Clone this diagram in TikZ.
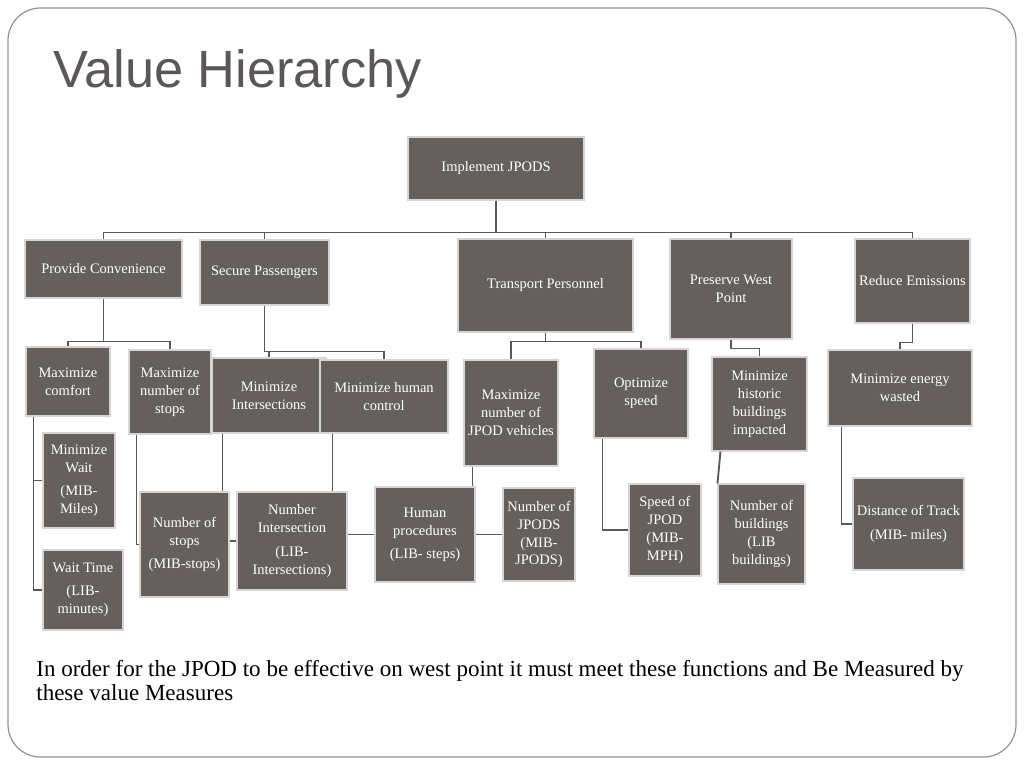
\documentclass[tikz,border=0pt]{standalone}
\usepackage{fontspec}
\setmainfont{Liberation Serif}
\newfontfamily\headfont{Liberation Sans}

\definecolor{boxgray}{HTML}{655F5E}
\definecolor{linegray}{HTML}{5A5858}
\definecolor{edgegray}{HTML}{D8D4D3}
\definecolor{titlegray}{HTML}{5C5757}

\begin{document}
\begin{tikzpicture}[main/.style = {draw=edgegray, line width=0.6pt, fill=boxgray, text=white, align=center, inner sep=1pt, font=\fontsize{8.25}{10.2}\selectfont},
                    link/.style = {draw=linegray, line width=1.05pt}]

        \useasboundingbox (0,0) rectangle (20.48,-15.36);
        \draw[gray!85, line width=0.7pt, rounded corners=0.65cm] (0.16,-0.16) rectangle (20.32,-15.14);

        \node[anchor=base west, inner sep=0pt, text=titlegray, font=\headfont\fontsize{29.8}{30}\selectfont, xshift=1.06cm, yshift=-1.76cm] (title) {Value Hierarchy};

        \node[main, xshift=9.92cm, yshift=-3.37cm, minimum width=3.52cm, minimum height=1.26cm] (1) {Implement JPODS};
        \node[main, xshift=2.07cm, yshift=-5.38cm, minimum width=3.14cm, minimum height=1.16cm] (2) {Provide Convenience};
        \node[main, xshift=5.29cm, yshift=-5.45cm, minimum width=2.58cm, minimum height=1.30cm] (3) {Secure Passengers};
        \node[main, xshift=10.91cm, yshift=-5.71cm, minimum width=3.50cm, minimum height=1.86cm] (4) {Transport Personnel};
        \node[main, xshift=14.62cm, yshift=-5.78cm, minimum width=2.44cm, minimum height=2.00cm] (5) {Preserve West\\Point};
        \node[main, xshift=18.25cm, yshift=-5.62cm, minimum width=2.30cm, minimum height=1.68cm] (6) {Reduce Emissions};

        \node[main, xshift=1.36cm, yshift=-7.63cm, minimum width=1.68cm, minimum height=1.38cm] (7) {Maximize\\comfort};
        \node[main, xshift=3.40cm, yshift=-7.84cm, minimum width=1.64cm, minimum height=1.68cm] (8) {Maximize\\number of\\stops};
        \node[main, xshift=5.38cm, yshift=-7.91cm, minimum width=2.28cm, minimum height=1.50cm] (9) {Minimize\\Intersections};
        \node[main, xshift=7.68cm, yshift=-7.93cm, minimum width=2.56cm, minimum height=1.46cm] (10) {Minimize human\\control};
        \node[main, xshift=10.22cm, yshift=-8.26cm, minimum width=1.88cm, minimum height=2.12cm] (11) {Maximize\\number of\\JPOD vehicles};
        \node[main, xshift=12.82cm, yshift=-7.87cm, minimum width=1.88cm, minimum height=1.78cm] (12) {Optimize\\speed};
        \node[main, xshift=15.19cm, yshift=-8.08cm, minimum width=1.90cm, minimum height=1.88cm] (13) {Minimize\\historic\\buildings\\impacted};
        \node[main, xshift=18.00cm, yshift=-7.76cm, minimum width=2.88cm, minimum height=1.52cm] (14) {Minimize energy\\wasted};

        \node[main, xshift=1.58cm, yshift=-9.61cm, minimum width=1.44cm, minimum height=1.90cm] (15) {Minimize\\Wait\\[3pt](MIB-\\Miles)};
        \node[main, xshift=1.66cm, yshift=-11.80cm, minimum width=1.60cm, minimum height=1.60cm] (16) {Wait Time\\[3pt](LIB-\\minutes)};
        \node[main, xshift=3.69cm, yshift=-10.89cm, minimum width=1.78cm, minimum height=2.10cm] (17) {Number of\\stops\\[3pt](MIB-stops)};
        \node[main, xshift=5.84cm, yshift=-10.82cm, minimum width=2.20cm, minimum height=1.96cm] (18) {Number\\Intersection\\[3pt](LIB-\\Intersections)};
        \node[main, xshift=8.50cm, yshift=-10.69cm, minimum width=2.00cm, minimum height=1.90cm] (19) {Human\\procedures\\[3pt](LIB- steps)};
        \node[main, xshift=10.78cm, yshift=-10.69cm, minimum width=1.44cm, minimum height=1.86cm] (20) {Number of\\JPODS\\(MIB-\\JPODS)};
        \node[main, xshift=13.30cm, yshift=-10.60cm, minimum width=1.44cm, minimum height=1.84cm] (21) {Speed of\\JPOD\\(MIB-\\MPH)};
        \node[main, xshift=15.23cm, yshift=-10.68cm, minimum width=1.74cm, minimum height=2.00cm] (22) {Number of\\buildings\\(LIB\\buildings)};
        \node[main, xshift=18.17cm, yshift=-10.48cm, minimum width=2.22cm, minimum height=1.84cm] (23) {Distance of Track\\[3pt](MIB- miles)};

        \node[anchor=base west, align=left, inner sep=0pt, font=\fontsize{13.1}{13.1}\selectfont, xshift=0.72cm, yshift=-14.00cm] (note) {In order for the JPOD to be effective on west point it must meet these functions and Be Measured by\\these value Measures};

        \coordinate (9s) at ([xshift=0.22cm]9.south west);
        \coordinate (10s) at ([xshift=0.26cm]10.south west);
        \coordinate (11s) at ([xshift=0.18cm]11.south west);

        \draw[link] (1.south) -- ++(0,-0.64) -| (2.north);
        \draw[link] (1.south) -- ++(0,-0.64) -| (3.north);
        \draw[link] (1.south) -- ++(0,-0.64) -| (4.north);
        \draw[link] (1.south) -- ++(0,-0.64) -| (5.north);
        \draw[link] (1.south) -- ++(0,-0.64) -| (6.north);
        \draw[link] (2.south) -- ++(0,-0.86) -| (7.north);
        \draw[link] (2.south) -- ++(0,-0.86) -| (8.north);
        \draw[link] (3.south) -- ++(0,-0.92) -| (9.north);
        \draw[link] (3.south) -- ++(0,-0.92) -| (10.north);
        \draw[link] (4.south) -- ++(0,-0.18) -| (11.north);
        \draw[link] (4.south) -- ++(0,-0.18) -| (12.north);
        \draw[link] (5.south) -- ++(0,-0.18) -| (13.north);
        \draw[link] (6.south) -- ++(0,-0.38) -| (14.north);

        \draw[link] ([xshift=0.16cm]7.south west) |- (15.west);
        \draw[link] ([xshift=0.16cm]7.south west) |- (16.west);
        \draw[link] ([xshift=0.16cm]8.south west) |- (17.west);
        \draw[link] (9s) -- (9s |- 17.north);
        \draw[link] (10s) -- (10s |- 18.north);
        \draw[link] (11s) -- (11s |- 19.north);
        \draw[link] ([xshift=0.18cm]12.south west) |- (21.west);
        \draw[link] ([xshift=0.18cm]13.south west) -- (22.north west);
        \draw[link] ([xshift=0.28cm]14.south west) |- (23.west);
        \draw[link] (17.east |- 18.west) -- (18.west);
        \draw[link] (18.east |- 19.west) -- (19.west);
        \draw[link] (19) -- (20);

\end{tikzpicture}
\end{document}
